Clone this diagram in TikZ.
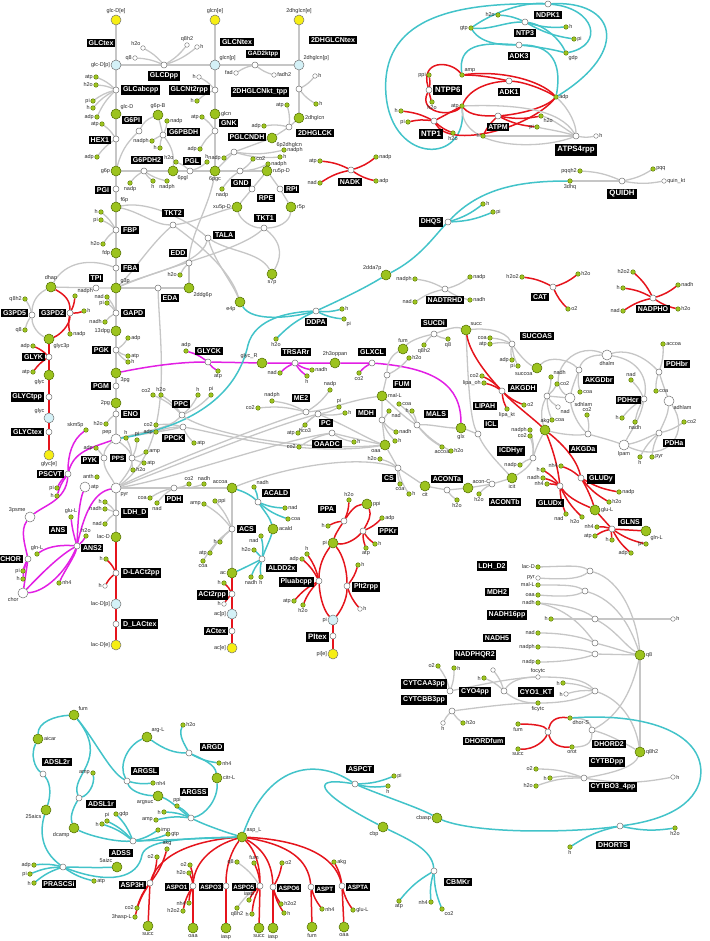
\documentclass[tikz,border=0pt]{standalone}
\usepackage{fontspec}
\usepackage{etoolbox}
\setmainfont{Liberation Sans}
\usetikzlibrary{backgrounds}
\definecolor{mgreen}{HTML}{9CC31E}
\definecolor{mgreenD}{HTML}{4F6B00}
\definecolor{myel}{HTML}{F6EE14}
\definecolor{mblu}{HTML}{D4F1F7}
\definecolor{egray}{HTML}{C6C6C6}
\definecolor{ered}{HTML}{E5141C}
\definecolor{ecyan}{HTML}{42C3C9}
\definecolor{emag}{HTML}{E21FE4}
\tikzset{
 rx/.style={circle,draw=black!55,fill=white,line width=.5pt,inner sep=0pt,minimum size=6pt},
 bm/.style={circle,draw=mgreenD,fill=mgreen,line width=.5pt,inner sep=0pt,minimum size=10pt},
 sm/.style={circle,draw=mgreenD,fill=mgreen,line width=.35pt,inner sep=0pt,minimum size=4.6pt},
 ws/.style={circle,draw=black!55,fill=white,line width=.4pt,inner sep=0pt,minimum size=4.6pt},
 wb/.style={circle,draw=black!55,fill=white,line width=.5pt,inner sep=0pt,minimum size=10pt},
 ye/.style={circle,draw=black!55,fill=myel,line width=.5pt,inner sep=0pt,minimum size=10pt},
 pe/.style={circle,draw=black!55,fill=mblu,line width=.5pt,inner sep=0pt,minimum size=10pt},
 lbox/.style={fill=black,text=white,font=\bfseries\fontsize{7}{8}\selectfont,inner sep=1.8pt},
 bbx/.style={font=\bfseries\fontsize{7.8}{9}\selectfont,inner sep=2pt},
 sbx/.style={font=\bfseries\fontsize{6.2}{7}\selectfont,inner sep=1.4pt},
 lab/.style={font=\fontsize{5.5}{6}\selectfont,inner sep=.6pt,text=black!85},
 lg/.style={draw=egray,line width=1.3pt},
 lr/.style={draw=ered,line width=1.5pt},
 lc/.style={draw=ecyan,line width=1.5pt},
 lm/.style={draw=emag,line width=1.5pt},
}
\newcommand\edgelist{}
\newcommand\Bm[4]{\node[bm,label={[lab]#4:{#3}}] (#1) at (#2) {};}
\newcommand\Sm[4]{\node[sm,label={[lab]#4:{#3}}] (#1) at (#2) {};}
\newcommand\Ws[4]{\node[ws,label={[lab]#4:{#3}}] (#1) at (#2) {};}
\newcommand\Wb[4]{\node[wb,label={[lab]#4:{#3}}] (#1) at (#2) {};}
\newcommand\Ye[4]{\node[ye,label={[lab]#4:{#3}}] (#1) at (#2) {};}
\newcommand\Pe[4]{\node[pe,label={[lab]#4:{#3}}] (#1) at (#2) {};}
\newcommand\Rx[5][]{\node[rx] (#2) at (#3) {};\node[lbox,#1] (#2b) at (#4) {#5};}
\newcommand\E[2][lg]{\gappto\edgelist{\draw[#1] #2;}}
\newcommand\Cf[6][lg]{\node[sm,label={[lab]#5:{#4}}] (#2) at (#3) {};\E[#1]{(#2) to[bend left=10] (#6)}}
\newcommand\Cw[6][lg]{\node[ws,label={[lab]#5:{#4}}] (#2) at (#3) {};\E[#1]{(#2) to[bend left=10] (#6)}}
\begin{document}
\begin{tikzpicture}[x=1pt,y=-1pt]
\useasboundingbox (0,0) rectangle (709,941);
% ================= transport top
\Ye{glcDe}{116,20}{glc-D[e]}{above}
\node[lbox] (GLCtexb) at (101,43) {GLCtex};
\Pe{glcDp}{116,65}{glc-D[p]}{left}
\Ye{glcne}{215,20}{glcn[e]}{above}
\node[lbox] (GLCNtexb) at (237,42) {GLCNtex};
\Pe{glcnp}{215,65}{glcn[p]}{above right}
\Ye{dhge}{299,20}{2dhglcn[e]}{above}
\node[lbox] (DHGLCNtexb) at (333,40) {2DHGLCNtex};
\Pe{dhgp}{299,65}{2dhglcn[p]}{above right}
\E{(glcDe) -- (glcDp)}
\E{(glcne) -- (glcnp)}
\E{(dhge) -- (dhgp)}
\Rx{GLCDpp}{164,65}{164,76}{GLCDpp}
\Cw{gdA}{143,48}{h2o}{above left}{GLCDpp}
\Cw{gdB}{135,58}{q8}{left}{GLCDpp}
\Cw{gdC}{187,45}{q8h2}{above}{GLCDpp}
\Cw{gdD}{197,47}{h}{right}{GLCDpp}
\E{(glcDp) -- (GLCDpp) -- (glcnp)}
\Rx[sbx]{GADkt}{255,65}{263,54}{GAD2ktpp}
\Cw{gaA}{236,73}{fad}{left}{GADkt}
\Cw{gaB}{274,75}{fadh2}{right}{GADkt}
\E{(glcnp) -- (GADkt) -- (dhgp)}
% ================= upper glycolysis
\Rx[anchor=west]{GLCabc}{116,90}{121,90}{GLCabcpp}
\Cf{gaa1}{96,77}{atp}{left}{GLCabc}
\Cf{gaa2}{96,85}{h2o}{left}{GLCabc}
\Cf{gaa3}{93,101}{pi}{left}{GLCabc}
\Cf{gaa4}{93,108}{h}{left}{GLCabc}
\Cf{gaa5}{97,117}{adp}{left}{GLCabc}
\Bm{glcD}{116,114}{glc-D}{above right}
\E{(glcDp) -- (GLCabc) -- (glcD)}
\Bm{gsixpB}{158,115}{g6p-B}{above}
\Rx{GSixPI}{139,131}{132,120}{G6PI}
\Rx[anchor=east]{HEXone}{116,139}{111,140}{HEX1}
\Cf{hx1}{102,124}{atp}{left}{HEXone}
\Cf{hx2}{97,157}{adp}{left}{HEXone}
\Bm{gsixp}{116,171}{g6p}{left}
\E{(glcD) -- (HEXone) -- (gsixp)}
\E{(gsixpB) to[bend right=20] (GSixPI)}
\E{(GSixPI) to[bend right=15] (gsixp)}
\Rx[anchor=west]{GSixPBDH}{163,135}{167,132}{G6PBDH}
\Cf{gb1}{167,121}{nadp}{right}{GSixPBDH}
\Cf{gb2}{152,141}{nadph}{left}{GSixPBDH}
\Cf{gb3}{160,148}{h}{left}{GSixPBDH}
\Rx[anchor=east]{GLCNtrpp}{215,90}{210,90}{GLCNt2rpp}
\Cw{gn1}{199,77}{h}{left}{GLCNtrpp}
\Cf{gn2}{197,101}{h}{left}{GLCNtrpp}
\Bm{glcn}{215,114}{glcn}{right}
\E{(glcnp) -- (GLCNtrpp) -- (glcn)}
\Rx[anchor=west]{GNK}{215,131}{219,123}{GNK}
\Cf{gnk1}{202,117}{atp}{left}{GNK}
\Cf{gnk2}{200,149}{adp}{left}{GNK}
\Bm{pgcSix}{215,171}{6pgc}{below}
\E{(glcn) -- (GNK) -- (pgcSix)}
\Rx{GSixPDH}{144,171}{147,160}{G6PDH2}
\Cf{gp1}{130,183}{nadp}{below}{GSixPDH}
\Cf{gp2}{153,181}{h}{below}{GSixPDH}
\Cf{gp3}{167,181}{nadph}{below}{GSixPDH}
\Bm{pglSix}{173,171}{6pgl}{below right}
\Rx{PGL}{190,171}{192,161}{PGL}
\Cf{pl1}{176,162}{h2o}{above left}{PGL}
\Cf{pl2}{207,162}{h}{above}{PGL}
\E{(gsixp) -- (GSixPDH) -- (pglSix) -- (PGL) -- (pgcSix)}
\E{(gsixpB) -- (GSixPBDH)}
\E{(GSixPBDH) to[bend left=20] (pglSix)}
\Rx[anchor=east]{PGI}{116,189}{111,190}{PGI}
\Bm{fsixp}{116,207}{f6p}{above right}
\E{(gsixp) -- (PGI) -- (fsixp)}
\Rx[anchor=west]{FBP}{116,230}{121,230}{FBP}
\Cf{fb1}{101,212}{h}{left}{FBP}
\Cf{fb2}{101,220}{pi}{left}{FBP}
\Cf{fb3}{103,244}{h2o}{left}{FBP}
\Bm{fdp}{116,253}{fdp}{left}
\E{(fsixp) -- (FBP) -- (fdp)}
\Rx[anchor=west]{FBA}{116,268}{121,268}{FBA}
\Bm{gthreep}{116,288}{g3p}{above right}
\E{(fdp) -- (FBA) -- (gthreep)}
\Bm{dhap}{51,287}{dhap}{above}
\Rx{TPI}{96,288}{96,278}{TPI}
\E{(dhap) -- (TPI) -- (gthreep)}
\E{(FBA) .. controls (90,258) and (65,262) .. (dhap)}
% ================= pentose phosphate
\Rx{EDD}{189,263}{178,253}{EDD}
\Cf{ed1}{180,275}{h2o}{left}{EDD}
\Bm{ddgsix}{189,288}{2ddg6p}{below right}
\Rx{EDA}{158,288}{170,298}{EDA}
\E{(pgcSix) .. controls (210,205) and (190,235) .. (EDD)}
\E{(EDD) -- (ddgsix)}
\E{(ddgsix) -- (EDA) -- (gthreep)}
\Rx{GND}{240,171}{241,183}{GND}
\Cf{gd1}{253,159}{co2}{right}{GND}
\Cf{gd2}{268,164}{nadph}{right}{GND}
\Cf{gd3}{222,189}{nadp}{below}{GND}
\Bm{rufp}{267,171}{ru5p-D}{right}
\E{(pgcSix) -- (GND) -- (rufp)}
\Rx{RPE}{252,189}{266,198}{RPE}
\Rx[anchor=west]{RPI}{280,189}{284,189}{RPI}
\Bm{xufp}{237,207}{xu5p-D}{left}
\Bm{rfivep}{291,207}{r5p}{right}
\E{(rufp) -- (RPE) -- (xufp)}
\E{(rufp) -- (RPI) -- (rfivep)}
\Rx{TKTone}{264,228}{265,218}{TKT1}
\Rx{TKTtwo}{173,225}{173,213}{TKT2}
\Rx[anchor=west]{TALA}{208,238}{213,235}{TALA}
\Bm{efourp}{240,302}{e4p}{below left}
\Bm{sseven}{272,274}{s7p}{below}
\E{(fsixp) .. controls (140,212) and (155,225) .. (TKTtwo)}
\E{(TKTtwo) .. controls (195,222) and (215,212) .. (xufp)}
\E{(TKTtwo) .. controls (150,245) and (135,270) .. (gthreep)}
\E{(TKTtwo) .. controls (200,245) and (230,270) .. (efourp)}
\E{(TALA) .. controls (190,222) and (150,200) .. (fsixp)}
\E{(TALA) .. controls (200,265) and (150,272) .. (gthreep)}
\E{(TALA) .. controls (230,252) and (260,252) .. (sseven)}
\E{(TALA) .. controls (215,262) and (232,282) .. (efourp)}
\E{(TKTone) .. controls (252,228) and (240,220) .. (xufp)}
\E{(TKTone) .. controls (278,228) and (290,222) .. (rfivep)}
\E{(TKTone) .. controls (285,245) and (280,260) .. (sseven)}
\E{(TKTone) .. controls (240,250) and (180,262) .. (gthreep)}
\Rx{PGLCNDH}{234,152}{247,137}{PGLCNDH}
\Cf{pgn1}{224,158}{nadp}{left}{PGLCNDH}
\Cf{pgn2}{284,150}{nadph}{right}{PGLCNDH}
\Cf{pgn3}{280,157}{h}{right}{PGLCNDH}
\Rx{DHGkt}{299,89}{260,92}{2DHGLCNkt\_tpp}
\Cw{dk1}{315,76}{h}{right}{DHGkt}
\Cf{dk2}{316,104}{h}{right}{DHGkt}
\Bm{dhglcn}{299,118}{2dhglcn}{right}
\E{(dhgp) -- (DHGkt) -- (dhglcn)}
\Rx{DHGLCK}{289,127}{315,133}{2DHGLCK}
\Cf{dc1}{287,105}{atp}{left}{DHGLCK}
\Cf{dc2}{264,126}{adp}{left}{DHGLCK}
\Bm{psixdhg}{272,138}{6p2dhglcn}{below right}
\E{(dhglcn) -- (DHGLCK) -- (psixdhg)}
\E{(psixdhg) -- (PGLCNDH) -- (pgcSix)}
% NADK
\Rx{NADK}{351,170}{350,182}{NADK}
\Cf[lr]{nk1}{320,161}{atp}{left}{NADK}
\Cf[lr]{nk2}{320,183}{nad}{left}{NADK}
\Cf[lr]{nk3}{376,157}{nadp}{right}{NADK}
\Cf[lr]{nk4}{376,181}{adp}{right}{NADK}
% ================= glycerol
\Rx[anchor=east]{GTPDfive}{32,315}{28,313}{G3PD5}
\Cf{g5a}{25,299}{q8h2}{left}{GTPDfive}
\Cf{g5b}{25,330}{q8}{left}{GTPDfive}
\Bm{glycthreep}{49,339}{glyc3p}{below right}
\E{(dhap) .. controls (35,295) and (32,305) .. (GTPDfive)}
\E{(GTPDfive) .. controls (32,328) and (40,335) .. (glycthreep)}
\Rx[anchor=east]{GTPDtwo}{70,313}{66,313}{G3PD2}
\Cf[lr]{g2a}{75,296}{nadph}{above right}{GTPDtwo}
\Cf[lr]{g2b}{84,311}{h}{right}{GTPDtwo}
\Cf[lr]{g2c}{70,334}{nadp}{right}{GTPDtwo}
\E[lr]{(dhap) .. controls (65,295) and (70,300) .. (GTPDtwo)}
\E[lr]{(GTPDtwo) .. controls (70,325) and (60,335) .. (glycthreep)}
\Rx[anchor=east]{GLYK}{49,357}{45,357}{GLYK}
\Cf[lr]{gk1}{33,346}{adp}{left}{GLYK}
\Cf[lr]{gk2}{33,372}{atp}{left}{GLYK}
\Bm{glyc}{49,375}{glyc}{below left}
\Rx[anchor=east]{GLYCtpp}{49,397}{44,397}{GLYCtpp}
\Pe{glycp}{49,418}{glyc}{above left}
\Rx[anchor=east]{GLYCtex}{49,432}{44,432}{GLYCtex}
\Ye{glyce}{49,455}{glyc[e]}{below}
\E[lr]{(glycthreep) -- (GLYK) -- (glyc) -- (GLYCtpp) -- (glycp) -- (GLYCtex) -- (glyce)}
% ================= lower glycolysis
\Rx[anchor=west]{GAPD}{116,313}{121,313}{GAPD}
\Cf{ga1}{107,297}{nad}{left}{GAPD}
\Cf{ga2}{107,303}{pi}{left}{GAPD}
\Cf{ga3}{105,322}{nadh}{left}{GAPD}
\Bm{dpg}{116,331}{13dpg}{left}
\E{(gthreep) -- (GAPD) -- (dpg)}
\Rx[anchor=east]{PGK}{116,350}{111,350}{PGK}
\Cf{pk1}{128,338}{adp}{right}{PGK}
\Cf{pk2}{128,356}{atp}{right}{PGK}
\Cf{pk3}{128,362}{h}{right}{PGK}
\Bm{pgthree}{116,373}{3pg}{below right}
\E{(dpg) -- (PGK) -- (pgthree)}
\Rx[anchor=east]{PGM}{116,386}{111,386}{PGM}
\Bm{pgtwo}{116,403}{2pg}{left}
\E{(pgthree) -- (PGM) -- (pgtwo)}
\Rx[anchor=west]{ENO}{116,414}{121,414}{ENO}
\Cf{en1}{106,424}{h2o}{left}{ENO}
\Wb{pep}{116,439}{pep}{above left}
\E{(pgtwo) -- (ENO) -- (pep)}
\Rx{PPC}{182,415}{181,404}{PPC}
\Cf{pc1}{153,395}{co2}{above left}{PPC}
\Cf{pc2}{161,395}{h2o}{above}{PPC}
\Cf{pc3}{198,395}{h}{above}{PPC}
\Cf{pc4}{211,395}{pi}{above}{PPC}
\Rx[anchor=west]{PPCK}{183,427}{162,438}{PPCK}
\Cf{pcka}{156,425}{co2}{left}{PPCK}
\Cf{pckb}{156,432}{adp}{left}{PPCK}
\Cf{pckc}{194,443}{atp}{right}{PPCK}
\Rx[anchor=east]{PYK}{104,458}{99,460}{PYK}
\Rx[sbx]{PPS}{132,458}{118,458}{PPS}
\Cf{pya}{96,448}{adp}{left}{PYK}
\Cf{ppsa}{126,438}{h}{above}{PPS}
\Cf{ppsb}{137,440}{pi}{above}{PPS}
\Cf{ppsc}{146,452}{amp}{right}{PPS}
\Cf{ppsd}{144,463}{atp}{right}{PPS}
\Cf{ppse}{133,470}{h2o}{right}{PPS}
\Wb{pyr}{116,488}{pyr}{below right}
\E{(pep) .. controls (108,445) and (104,450) .. (PYK)}
\E{(PYK) .. controls (104,470) and (112,478) .. (pyr)}
\E{(pyr) .. controls (124,478) and (132,468) .. (PPS)}
\E{(PPS) .. controls (130,450) and (122,444) .. (pep)}
\E{(pep) .. controls (150,430) and (170,428) .. (PPC)}
\E{(PPCK) .. controls (160,432) and (130,436) .. (pep)}
\E{(EDA) .. controls (160,350) and (175,445) .. (pyr)}
\Rx{PDH}{174,488}{174,499}{PDH}
\Cf{pda}{150,498}{coa}{left}{PDH}
\Cf{pdb}{157,503}{nad}{below}{PDH}
\Cf{pdc}{189,484}{co2}{above}{PDH}
\Cf{pdd}{204,484}{nadh}{above}{PDH}
\Bm{accoa}{232,488}{accoa}{above left}
\E{(pyr) -- (PDH) -- (accoa)}
\Rx[anchor=west]{LDHD}{116,513}{121,513}{LDH\_D}
\Cf{lda}{105,502}{h}{left}{LDHD}
\Cf{ldb}{105,509}{nadh}{left}{LDHD}
\Cf{ldc}{105,524}{nad}{left}{LDHD}
\Bm{lacD}{116,537}{lac-D}{left}
\E{(pyr) -- (LDHD) -- (lacD)}
\Rx[anchor=west]{DLACtpp}{116,573}{121,573}{D-LACt2pp}
\Cf[lr]{dla}{106,559}{h}{left}{DLACtpp}
\Cw[lr]{dlb}{105,586}{h}{left}{DLACtpp}
\Pe{lacDp}{116,604}{lac-D[p]}{left}
\Rx[anchor=west]{DLACtex}{116,624}{121,624}{D\_LACtex}
\Ye{lacDe}{116,645}{lac-D[e]}{left}
\E[lr]{(lacD) -- (DLACtpp) -- (lacDp) -- (DLACtex) -- (lacDe)}
% ================= chorismate (magenta)
\Sm{skmfp}{86,430}{skm5p}{above left}
\Rx[anchor=east]{PSCVT}{68,474}{64,474}{PSCVT}
\Cf[lm]{psa}{57,488}{pi}{left}{PSCVT}
\Cf[lm]{psb}{57,496}{h}{left}{PSCVT}
\E[lm]{(skmfp) .. controls (72,440) and (68,455) .. (PSCVT)}
\E[lm]{(pep) .. controls (90,448) and (74,452) .. (PSCVT)}
\Wb{psme}{30,517}{3psme}{above left}
\E[lm]{(PSCVT) .. controls (66,500) and (45,505) .. (psme)}
\Sm{anth}{97,477}{anth}{left}
\Wb{atpw}{85,487}{atp}{right}
\Sm{gluLa}{71,517}{glu-L}{above}
\node[lbox] (ANSb) at (58,530) {ANS};
\Rx[anchor=west]{ANStwo}{77,546}{81,548}{ANS2}
\Cf[lm]{ana}{86,536}{h2o}{above}{ANStwo}
\Rx[anchor=east]{CHOR}{28,559}{23,559}{CHOR}
\Sm{glnLa}{37,554}{gln-L}{above}
\Cf[lm]{cha}{23,571}{pi}{left}{CHOR}
\Cf[lm]{chb}{23,579}{h}{left}{CHOR}
\Wb{chor}{23,593}{chor}{below left}
\Sm{nhfa}{59,583}{nh4}{right}
\E[lm]{(psme) .. controls (20,530) and (25,545) .. (CHOR)}
\E[lm]{(CHOR) -- (chor)}
\E[lm]{(chor) .. controls (40,575) and (60,555) .. (ANStwo)}
\E[lm]{(chor) .. controls (45,592) and (66,572) .. (ANStwo)}
\E[lm]{(ANStwo) .. controls (85,510) and (95,492) .. (pyr)}
\E[lm]{(ANStwo) .. controls (78,515) and (80,500) .. (atpw)}
\E[lm]{(glnLa) .. controls (50,545) and (65,545) .. (ANStwo)}
\E[lm]{(ANStwo) .. controls (73,532) and (72,527) .. (gluLa)}
\E[lm]{(nhfa) .. controls (65,570) and (75,556) .. (ANStwo)}
% ================= glycerate / glyoxylate (magenta)
\Rx{GLYCK}{208,362}{209,351}{GLYCK}
\Cf[lm]{gya}{186,351}{adp}{above}{GLYCK}
\Cf[lm]{gyb}{218,371}{atp}{below}{GLYCK}
\Bm{glycR}{262,363}{glyc\_R}{above left}
\Rx{TRSARr}{295,363}{296,352}{TRSARr}
\Cf[lm]{tra}{280,373}{nad}{left}{TRSARr}
\Cf[lm]{trb}{307,376}{h}{below}{TRSARr}
\Cf[lm]{trc}{312,370}{nadh}{right}{TRSARr}
\Bm{hoppan}{335,363}{2h3oppan}{above}
\Rx{GLXCL}{372,363}{372,352}{GLXCL}
\Cf[lm]{glxa}{359,373}{co2}{below}{GLXCL}
\Bm{glx}{461,428}{glx}{below}
\E[lm]{(pgthree) .. controls (150,366) and (180,362) .. (GLYCK)}
\E[lm]{(GLYCK) -- (glycR) -- (TRSARr) -- (hoppan) -- (GLXCL)}
\E[lm]{(GLXCL) .. controls (435,368) and (461,385) .. (glx)}
% ================= shikimate (cyan)
\Rx{DDPA}{316,311}{316,322}{DDPA}
\Cf[lc]{dda}{342,309}{h}{right}{DDPA}
\Cf[lc]{ddb}{344,319}{pi}{below right}{DDPA}
\Cf[lc]{ddc}{276,339}{h2o}{below}{DDPA}
\Bm{ddasevp}{386,275}{2dda7p}{above left}
\E[lc]{(efourp) .. controls (252,322) and (290,318) .. (DDPA)}
\E[lc]{(DDPA) .. controls (340,300) and (365,288) .. (ddasevp)}
\E[lc]{(pep) .. controls (200,425) and (238,390) .. (248,345) .. controls (255,318) and (290,312) .. (DDPA)}
\Rx[anchor=east]{DHQS}{448,222}{443,222}{DHQS}
\Cf[lc]{dqa}{483,204}{h}{right}{DHQS}
\Cf[lc]{dqb}{493,212}{pi}{right}{DHQS}
\Sm{dhqthree}{570,181}{3dhq}{below}
\E[lc]{(ddasevp) .. controls (420,258) and (435,235) .. (DHQS)}
\E[lc]{(DHQS) .. controls (480,188) and (520,181) .. (dhqthree)}
\Rx[bbx]{QUIDH}{622,181}{622,194}{QUIDH}
\Cf{qua}{580,171}{pqqh2}{left}{QUIDH}
\Cf{qub}{653,169}{pqq}{right}{QUIDH}
\Cw{quc}{664,181}{quin\_kt}{right}{QUIDH}
\E{(dhqthree) -- (QUIDH)}
% ================= energy (top right)
\Sm{atpT}{462,106}{atp}{left}
\Sm{ampT}{462,75}{amp}{above right}
\Sm{adpT}{556,97}{adp}{right}
\Sm{gtpT}{471,28}{gtp}{left}
\Sm{gdpT}{566,53}{gdp}{below right}
\Rx{NDPK}{548,4}{548,15}{NDPK1}
\Rx{NTPthree}{525,22}{525,33}{NTP3}
\Cf[lc]{ntA}{498,15}{h2o}{left}{NTPthree}
\Cf[lc]{ntB}{566,27}{h}{right}{NTPthree}
\Cf[lc]{ntC}{574,39}{pi}{right}{NTPthree}
\Rx{ADKthree}{519,45}{519,56}{ADK3}
\Rx[bbx,anchor=west]{NTPPsix}{429,90}{433,90}{NTPP6}
\Cf[lr]{n6a}{429,75}{ppi}{left}{NTPPsix}
\Cf[lr]{n6b}{432,102}{h2o}{below}{NTPPsix}
\Rx[bbx]{NTPone}{434,121}{431,134}{NTP1}
\Cf[lr]{n1a}{401,111}{h}{left}{NTPone}
\Cf[lr]{n1b}{408,122}{pi}{left}{NTPone}
\Cf[lr]{n1c}{453,133}{h2o}{below}{NTPone}
\Rx{ADKone}{509,81}{509,92}{ADK1}
\Rx{ATPM}{498,116}{498,127}{ATPM}
\Cf[lr]{ama}{541,116}{h2o}{below right}{ATPM}
\Cf[lr]{amb}{537,127}{pi}{left}{ATPM}
\Cf[lr]{amc}{483,136}{h}{left}{ATPM}
\Rx[bbx]{ATPSfour}{576,136}{576,150}{ATPS4rpp}
\Cw{asa}{596,136}{h}{right}{ATPSfour}
\E[lc]{(atpT) .. controls (468,165) and (392,165) .. (386,95) .. controls (380,20) and (450,2) .. (NDPK)}
\E[lc]{(NDPK) .. controls (615,0) and (632,50) .. (adpT)}
\E[lc]{(NDPK) .. controls (595,8) and (605,45) .. (gdpT)}
\E[lc]{(gtpT) .. controls (500,8) and (530,2) .. (NDPK)}
\E[lc]{(gtpT) .. controls (490,30) and (505,22) .. (NTPthree)}
\E[lc]{(NTPthree) .. controls (545,25) and (560,40) .. (gdpT)}
\E[lc]{(ampT) .. controls (458,45) and (480,42) .. (ADKthree)}
\E[lc]{(gtpT) .. controls (482,45) and (505,45) .. (ADKthree)}
\E[lc]{(ADKthree) .. controls (540,47) and (555,50) .. (gdpT)}
\E[lc]{(ADKthree) .. controls (560,45) and (560,75) .. (adpT)}
\E[lr]{(atpT) .. controls (450,118) and (418,112) .. (NTPPsix)}
\E[lr]{(NTPPsix) .. controls (420,60) and (450,60) .. (ampT)}
\E[lr]{(atpT) -- (NTPone)}
\E[lr]{(NTPone) .. controls (450,150) and (530,128) .. (adpT)}
\E[lr]{(ampT) .. controls (480,75) and (495,78) .. (ADKone)}
\E[lr]{(atpT) .. controls (470,88) and (490,82) .. (ADKone)}
\E[lr]{(ADKone) .. controls (525,82) and (545,90) .. (adpT)}
\E[lr]{(atpT) .. controls (470,116) and (485,116) .. (ATPM)}
\E[lr]{(ATPM) .. controls (520,114) and (545,108) .. (adpT)}
\E[lr]{(ampT) .. controls (500,70) and (540,80) .. (adpT)}
\E{(adpT) .. controls (570,110) and (576,125) .. (ATPSfour)}
\E{(atpT) .. controls (462,150) and (540,150) .. (ATPSfour)}
\E{(atpT) .. controls (520,104) and (560,110) .. (ATPSfour)}
\E{(ATPSfour) .. controls (560,125) and (550,118) .. (ama)}
\E{(ATPSfour) .. controls (560,131) and (545,129) .. (amb)}
\E{(ATPSfour) -- (amc)}
% ================= redox
\Rx{NADTRHD}{445,289}{445,300}{NADTRHD}
\Cf{nda}{415,279}{nadph}{left}{NADTRHD}
\Cf{ndb}{415,302}{nad}{left}{NADTRHD}
\Cf{ndc}{470,277}{nadp}{right}{NADTRHD}
\Cf{ndd}{470,300}{nadh}{right}{NADTRHD}
\Rx{CAT}{553,287}{540,297}{CAT}
\Cf[lr]{caa}{522,277}{h2o2}{left}{CAT}
\Cf[lr]{cab}{578,274}{h2o}{right}{CAT}
\Cf[lr]{cac}{568,309}{o2}{right}{CAT}
\Rx{NADPHO}{653,298}{653,309}{NADPHO}
\Cf[lr]{npa}{633,272}{h2o2}{left}{NADPHO}
\Cf[lr]{npb}{623,288}{h}{left}{NADPHO}
\Cf[lr]{npc}{678,285}{nadh}{right}{NADPHO}
\Cf[lr]{npd}{678,309}{h2o}{right}{NADPHO}
\Cf[lr]{npe}{623,311}{nad}{left}{NADPHO}
% ================= TCA
\Bm{succ}{466,330}{succ}{above right}
\Rx{SUCDi}{434,334}{434,323}{SUCDi}
\Bm{fum}{403,349}{fum}{above}
\Cf{sda}{424,345}{q8h2}{below}{SUCDi}
\Cf{sdb}{448,339}{q8}{below}{SUCDi}
\E{(succ) .. controls (455,326) and (445,330) .. (SUCDi)}
\E{(SUCDi) .. controls (420,337) and (410,341) .. (fum)}
\Rx{FUM}{387,375}{402,384}{FUM}
\Cf{fua}{409,358}{h2o}{right}{FUM}
\Bm{malL}{382,396}{mal-L}{right}
\E{(fum) .. controls (390,356) and (387,365) .. (FUM)}
\E{(FUM) -- (malL)}
\Rx{MDH}{382,420}{366,413}{MDH}
\Cf{mda}{389,411}{nad}{below right}{MDH}
\Cf{mdb}{396,432}{nadh}{right}{MDH}
\Cf{mdc}{395,441}{h}{right}{MDH}
\Bm{oaa}{385,445}{oaa}{below left}
\E{(malL) -- (MDH) -- (oaa)}
\Rx{MALS}{417,425}{436,414}{MALS}
\Cf{maa}{399,404}{coa}{right}{MALS}
\Cf{mab}{412,411}{h}{left}{MALS}
\Cf{mac}{442,447}{accoa}{below}{MALS}
\Cf{mad}{451,451}{h2o}{right}{MALS}
\E{(glx) .. controls (445,428) and (430,424) .. (MALS)}
\E{(MALS) .. controls (405,418) and (392,405) .. (malL)}
\Rx{CS}{398,468}{389,478}{CS}
\Cf{csa}{400,484}{coa}{below}{CS}
\Cf{csb}{409,494}{h}{right}{CS}
\Cf{csd}{380,459}{h2o}{left}{CS}
\Bm{cit}{425,486}{cit}{below}
\E{(oaa) -- (CS) -- (cit)}
\Rx{ACONTa}{447,490}{447,479}{ACONTa}
\Cf{aca}{457,500}{h2o}{below}{ACONTa}
\Bm{aconC}{468,488}{acon-C}{above right}
\Rx{ACONTb}{492,484}{505,502}{ACONTb}
\Cf{acb}{479,494}{h2o}{below}{ACONTb}
\Bm{icit}{512,478}{icit}{below}
\E{(cit) -- (ACONTa) -- (aconC) -- (ACONTb) -- (icit)}
\Rx{ICDHyr}{533,458}{511,451}{ICDHyr}
\Cf{ica}{530,430}{nadph}{left}{ICDHyr}
\Cf{icb}{530,436}{co2}{left}{ICDHyr}
\Cf{icc}{520,465}{nadp}{left}{ICDHyr}
\Bm{akg}{545,430}{akg}{above}
\E{(icit) .. controls (525,470) and (530,465) .. (ICDHyr)}
\E{(ICDHyr) .. controls (537,445) and (540,440) .. (akg)}
\Rx{ICL}{478,434}{491,424}{ICL}
\E{(icit) .. controls (500,465) and (485,450) .. (ICL)}
\E{(ICL) .. controls (470,420) and (468,380) .. (succ)}
\E{(ICL) .. controls (472,432) and (468,430) .. (glx)}
\node[lbox] (LIPAHb) at (485,406) {LIPAH};
\Rx[anchor=west]{AKGDH}{502,391}{508,388}{AKGDH}
\Cf[lr]{aka}{482,376}{co2}{left}{AKGDH}
\Cf[lr]{akb}{484,383}{lipa\_oh}{left}{AKGDH}
\Cf[lr]{akc}{524,405}{o2}{right}{AKGDH}
\Cf[lr]{akd}{507,409}{lipa\_kt}{below}{AKGDH}
\E[lr]{(succ) .. controls (470,355) and (490,378) .. (AKGDH)}
\E[lr]{(AKGDH) .. controls (515,405) and (535,420) .. (akg)}
\Rx{SUCOAS}{512,344}{537,336}{SUCOAS}
\Cf{soa}{490,338}{coa}{left}{SUCOAS}
\Cf{sob}{490,344}{atp}{left}{SUCOAS}
\Cf{soc}{512,360}{adp}{left}{SUCOAS}
\Cf{sod}{518,366}{pi}{left}{SUCOAS}
\Bm{succoa}{537,368}{succoa}{below left}
\E{(succ) .. controls (485,328) and (505,330) .. (SUCOAS)}
\E{(SUCOAS) .. controls (520,356) and (528,364) .. (succoa)}
% AKGD / PDH complexes
\Wb{dhalm}{607,355}{dhalm}{below}
\Wb{sdhlam}{570,398}{sdhlam}{below right}
\Wb{lpam}{624,445}{lpam}{below}
\Wb{adhlam}{669,401}{adhlam}{below right}
\Rx[anchor=west]{AKGDbr}{579,370}{583,380}{AKGDbr}
\Cf{kba}{580,392}{coa}{right}{AKGDbr}
\E{(dhalm) .. controls (590,355) and (582,360) .. (AKGDbr)}
\E{(AKGDbr) .. controls (575,380) and (572,388) .. (sdhlam)}
\E{(succoa) .. controls (550,355) and (570,360) .. (AKGDbr)}
\Rx{AKGDa}{588,434}{583,449}{AKGDa}
\Cf{kaa}{587,415}{co2}{above}{AKGDa}
\E{(lpam) .. controls (610,440) and (595,436) .. (AKGDa)}
\E{(AKGDa) .. controls (578,425) and (572,412) .. (sdhlam)}
\E{(akg) .. controls (560,434) and (575,436) .. (AKGDa)}
\node[rx] (AKGDx) at (547,396) {};
\Cf{kxa}{551,377}{nadh}{above right}{AKGDx}
\Cf{kxb}{557,384}{co2}{right}{AKGDx}
\Cw{kxc}{558,407}{nad}{below right}{AKGDx}
\Cf{kxd}{552,420}{coa}{right}{AKGDx}
\E{(AKGDx) -- (sdhlam)}
\E{(akg) .. controls (540,415) and (542,405) .. (AKGDx)}
\Rx{PDHcr}{644,399}{628,400}{PDHcr}
\Cf{pca}{631,380}{nad}{above}{PDHcr}
\Cf{pcb}{622,418}{h}{left}{PDHcr}
\Cf{pcc}{635,422}{nadh}{below}{PDHcr}
\E{(dhalm) .. controls (640,360) and (648,380) .. (PDHcr)}
\E{(PDHcr) .. controls (640,420) and (630,432) .. (lpam)}
\Rx{PDHbr}{659,372}{677,364}{PDHbr}
\Cf{pba}{663,344}{accoa}{right}{PDHbr}
\Cf{pcd}{656,391}{coa}{right}{PDHbr}
\E{(adhlam) .. controls (665,390) and (662,382) .. (PDHbr)}
\E{(PDHbr) .. controls (640,352) and (622,350) .. (dhalm)}
\Rx{PDHa}{659,433}{674,443}{PDHa}
\Cf{paa}{684,422}{co2}{right}{PDHa}
\Cf{pab}{652,457}{pyr}{right}{PDHa}
\Cf{pac}{640,457}{h}{below}{PDHa}
\E{(lpam) .. controls (640,442) and (650,436) .. (PDHa)}
\E{(PDHa) .. controls (665,420) and (668,414) .. (adhlam)}
\E{(dhalm) .. controls (570,340) and (545,380) .. (sdhlam)}
\E{(adhlam) .. controls (690,430) and (670,465) .. (lpam)}
% glutamate (red)
\Rx{GLUDx}{560,486}{550,503}{GLUDx}
\Cf[lr]{gxa}{543,470}{h}{left}{GLUDx}
\Cf[lr]{gxb}{543,478}{nadh}{left}{GLUDx}
\Cf[lr]{gxc}{547,484}{nh4}{left}{GLUDx}
\Cf[lr]{gxd}{566,514}{nad}{below left}{GLUDx}
\Cf[lr]{gxe}{582,517}{h2o}{below left}{GLUDx}
\Rx{GLUDy}{581,478}{601,479}{GLUDy}
\Cf[lr]{gyaa}{561,466}{nh4}{left}{GLUDy}
\Cf[lr]{gybb}{619,492}{nadp}{right}{GLUDy}
\Cf[lr]{gycc}{609,502}{h2o}{right}{GLUDy}
\Bm{gluL}{595,510}{glu-L}{right}
\E[lr]{(akg) .. controls (555,455) and (558,470) .. (GLUDx)}
\E[lr]{(GLUDx) .. controls (570,500) and (585,505) .. (gluL)}
\E[lr]{(akg) .. controls (570,450) and (578,465) .. (GLUDy)}
\E[lr]{(GLUDy) .. controls (588,490) and (592,500) .. (gluL)}
\Rx{GLNS}{612,529}{630,522}{GLNS}
\Cf[lr]{gna}{597,527}{nh4}{left}{GLNS}
\Cf[lr]{gnb}{595,536}{atp}{left}{GLNS}
\Cf[lr]{gnc}{612,540}{h}{left}{GLNS}
\Cf[lr]{gnd}{646,544}{pi}{left}{GLNS}
\Cf[lr]{gne}{631,553}{adp}{left}{GLNS}
\Bm{glnL}{646,531}{gln-L}{below right}
\E[lr]{(gluL) -- (GLNS) -- (glnL)}
% ================= quinone network
\Bm{qeight}{640,655}{q8}{right}
\Bm{qeighthtwo}{640,752}{q8h2}{right}
\E{(qeight) -- (qeighthtwo)}
\Rx{LDHDtwo}{590,571}{492,566}{LDH\_D2}
\Sm{lacDb}{538,567}{lac-D}{left}
\Ws{pyrb}{538,578}{pyr}{left}
\E{(lacDb) .. controls (570,566) and (580,565) .. (LDHDtwo)}
\E{(pyrb) .. controls (570,580) and (580,578) .. (LDHDtwo)}
\E{(LDHDtwo) .. controls (622,580) and (637,620) .. (qeight)}
\Rx{MDHtwo}{585,591}{497,592}{MDH2}
\Sm{malLb}{538,585}{mal-L}{left}
\Sm{oaab}{538,595}{oaa}{left}
\E{(malLb) .. controls (565,585) and (575,585) .. (MDHtwo)}
\E{(oaab) .. controls (565,597) and (575,596) .. (MDHtwo)}
\E{(MDHtwo) .. controls (615,600) and (630,625) .. (qeight)}
\Rx{NADHsixteen}{595,619}{507,615}{NADH16pp}
\Sm{nadhb}{538,603}{nadh}{left}
\Sm{hb}{551,619}{h}{left}
\Ws{hbw}{673,619}{h}{right}
\E{(nadhb) .. controls (565,605) and (585,610) .. (NADHsixteen)}
\E{(hb) -- (NADHsixteen) -- (hbw)}
\E{(NADHsixteen) .. controls (615,630) and (625,645) .. (qeight)}
\Rx{NADHfive}{595,643}{497,638}{NADH5}
\Sm{nadb}{538,633}{nad}{left}
\E{(nadhb) .. controls (570,610) and (585,630) .. (NADHfive)}
\E{(nadb) .. controls (565,633) and (585,638) .. (NADHfive)}
\E{(NADHfive) .. controls (615,648) and (625,652) .. (qeight)}
\Rx{NADPHQR}{595,654}{475,655}{NADPHQR2}
\Sm{nadphb}{538,647}{nadph}{left}
\Sm{nadpb}{538,662}{nadp}{left}
\E{(nadphb) .. controls (565,647) and (585,650) .. (NADPHQR)}
\E{(nadpb) .. controls (565,662) and (585,658) .. (NADPHQR)}
\E{(NADPHQR) -- (qeight)}
\Rx{CYOoneKT}{595,691}{536,692}{CYO1\_KT}
\Ws{focytc}{538,677}{focytc}{above}
\Sm{ficytc}{538,703}{ficytc}{below}
\Cf{cya}{563,683}{h}{left}{CYOoneKT}
\Cw{cyb}{566,694}{h}{left}{CYOoneKT}
\E{(focytc) .. controls (570,677) and (585,680) .. (CYOoneKT)}
\E{(CYOoneKT) .. controls (620,700) and (635,720) .. (qeighthtwo)}
\E{(CYOoneKT) .. controls (580,700) and (560,703) .. (ficytc)}
\Rx{CYOfour}{504,691}{475,692}{CYO4pp}
\Cw{cfa}{493,670}{}{left}{CYOfour}
\Cf{cfb}{484,678}{h}{left}{CYOfour}
\E{(focytc) .. controls (520,677) and (510,682) .. (CYOfour)}
\E{(CYOfour) .. controls (515,700) and (525,703) .. (ficytc)}
\Rx{CYTCAA}{450,691}{424,684}{CYTCAA3pp}
\Cf{cta}{438,666}{o2}{left}{CYTCAA}
\Cf{ctb}{454,668}{h}{right}{CYTCAA}
\E{(CYTCAA) .. controls (480,685) and (510,678) .. (focytc)}
\Rx{CYTCBB}{452,711}{424,700}{CYTCBB3pp}
\Cw{cbw}{443,723}{h}{below}{CYTCBB}
\Cf{cbg}{463,723}{h2o}{right}{CYTCBB}
\E{(CYTCBB) .. controls (490,706) and (515,703) .. (ficytc)}
\Rx{DHORDfum}{548,732}{484,741}{DHORDfum}
\Sm{fumc}{518,724}{fum}{below}
\Sm{succc}{518,749}{succ}{below}
\Sm{dhorS}{570,718}{dhor-S}{below right}
\Sm{orot}{572,747}{orot}{below}
\E[lr]{(fumc) .. controls (535,724) and (545,726) .. (DHORDfum)}
\E[lr]{(succc) .. controls (535,750) and (545,740) .. (DHORDfum)}
\E[lr]{(dhorS) .. controls (555,716) and (550,722) .. (DHORDfum)}
\E[lr]{(orot) .. controls (555,748) and (550,740) .. (DHORDfum)}
\Rx{DHORDtwo}{592,730}{609,744}{DHORD2}
\E{(dhorS) .. controls (585,718) and (590,722) .. (DHORDtwo)}
\E{(orot) .. controls (590,747) and (592,740) .. (DHORDtwo)}
\E{(DHORDtwo) .. controls (620,715) and (632,690) .. (qeight)}
\E{(DHORDtwo) .. controls (610,735) and (628,745) .. (qeighthtwo)}
\node[lbox] (CYTBDppb) at (607,762) {CYTBDpp};
\Rx{CYTBO}{584,778}{613,787}{CYTBO3\_4pp}
\Cf{cba}{536,769}{o2}{left}{CYTBO}
\Cf{cbb}{550,778}{h}{left}{CYTBO}
\Cf{cbc}{536,786}{h2o}{left}{CYTBO}
\Cw{cbd}{673,777}{h}{right}{CYTBO}
\E{(CYTBO) .. controls (620,772) and (635,765) .. (qeighthtwo)}
% ================= aspartate (bottom)
\Bm{aspL}{242,837}{asp\_L}{above right}
\Rx{ASPCT}{355,784}{360,769}{ASPCT}
\Cf[lc]{acaa}{394,776}{pi}{right}{ASPCT}
\Cf[lc]{acbb}{388,786}{h}{below}{ASPCT}
\Bm{cbasp}{437,818}{cbasp}{left}
\Bm{cbp}{383,827}{cbp}{below left}
\E[lc]{(aspL) .. controls (270,760) and (320,760) .. (ASPCT)}
\E[lc]{(ASPCT) .. controls (380,795) and (420,808) .. (cbasp)}
\E[lc]{(ASPCT) .. controls (300,775) and (330,800) .. (cbp)}
\Rx{DHORTS}{620,826}{613,845}{DHORTS}
\Cf[lc]{dta}{675,828}{h2o}{below}{DHORTS}
\Cf[lc]{dtb}{570,847}{h}{below}{DHORTS}
\E[lc]{(dhorS) .. controls (660,712) and (708,740) .. (700,780) .. controls (692,812) and (650,822) .. (DHORTS)}
\E[lc]{(cbasp) .. controls (480,835) and (580,832) .. (DHORTS)}
\Rx{CBMKr}{434,871}{458,882}{CBMKr}
\Cf[lc]{cma}{399,901}{atp}{below}{CBMKr}
\Cf[lc]{cmb}{431,902}{nh4}{left}{CBMKr}
\Cf[lc]{cmc}{442,909}{co2}{below right}{CBMKr}
\E[lc]{(cbp) .. controls (410,840) and (432,850) .. (CBMKr)}
\Rx[anchor=east]{ASPthreeH}{150,883}{146,885}{ASP3H}
\Cf[lr]{a3a}{167,849}{akg}{above}{ASPthreeH}
\Cf[lr]{a3b}{157,857}{o2}{left}{ASPthreeH}
\Cf[lr]{a3c}{137,908}{co2}{left}{ASPthreeH}
\Cf[lr]{a3d}{135,917}{3hasp-L}{left}{ASPthreeH}
\Bm{succd}{148,926}{succ}{below}
\E[lr]{(aspL) .. controls (200,840) and (160,852) .. (ASPthreeH)}
\E[lr]{(ASPthreeH) -- (succd)}
\Rx[sbx,anchor=east]{ASPOone}{193,886}{189,887}{ASPO1}
\Cf[lr]{o1a}{190,865}{o2}{left}{ASPOone}
\Cf[lr]{o1b}{189,873}{h2o}{left}{ASPOone}
\Cf[lr]{o1c}{189,903}{nh4}{left}{ASPOone}
\Cf[lr]{o1d}{183,911}{h2o2}{left}{ASPOone}
\Bm{oaad}{193,928}{oaa}{below}
\E[lr]{(aspL) .. controls (215,845) and (195,860) .. (ASPOone)}
\E[lr]{(ASPOone) -- (oaad)}
\Rx[sbx,anchor=east]{ASPOthree}{226,886}{223,887}{ASPO3}
\Bm{iaspd}{226,928}{iasp}{below}
\E[lr]{(aspL) .. controls (232,850) and (226,865) .. (ASPOthree)}
\E[lr]{(ASPOthree) -- (iaspd)}
\Rx[sbx,anchor=east]{ASPOfive}{260,886}{256,887}{ASPO5}
\Cf{o5a}{237,862}{q8}{left}{ASPOfive}
\Cf[lr]{o5b}{254,863}{fum}{above}{ASPOfive}
\Cf{o5c}{237,908}{q8h2}{below}{ASPOfive}
\Cf[lr]{o5d}{249,900}{iasp}{above}{ASPOfive}
\Cf[lr]{o5e}{252,914}{h}{left}{ASPOfive}
\Bm{succe}{259,928}{succ}{below}
\E[lr]{(aspL) .. controls (255,850) and (260,865) .. (ASPOfive)}
\E[lr]{(ASPOfive) -- (succe)}
\Rx[sbx,anchor=west]{ASPOsix}{273,887}{277,888}{ASPO6}
\Cf[lr]{o6a}{282,863}{o2}{right}{ASPOsix}
\Cf[lr]{o6b}{281,904}{h2o2}{right}{ASPOsix}
\Cf[lr]{o6c}{284,913}{h}{right}{ASPOsix}
\Bm{iaspe}{273,928}{iasp}{below}
\E[lr]{(aspL) .. controls (265,850) and (272,865) .. (ASPOsix)}
\E[lr]{(ASPOsix) -- (iaspe)}
\Rx[sbx,anchor=west]{ASPT}{311,887}{315,889}{ASPT}
\Cf[lr]{ata}{322,909}{nh4}{right}{ASPT}
\Bm{fume}{312,927}{fum}{below}
\E[lr]{(aspL) .. controls (290,845) and (308,860) .. (ASPT)}
\E[lr]{(ASPT) -- (fume)}
\Rx[sbx,anchor=west]{ASPTA}{342,886}{346,887}{ASPTA}
\Cf[lr]{taa}{334,862}{akg}{right}{ASPTA}
\Cf[lr]{tab}{353,910}{glu-L}{right}{ASPTA}
\Bm{oaae}{344,927}{oaa}{below}
\E[lr]{(aspL) .. controls (300,840) and (335,855) .. (ASPTA)}
\E[lr]{(ASPTA) -- (oaae)}
% ================= purine / arginine (cyan, bottom left)
\Bm{fumb}{74,715}{fum}{above right}
\Bm{aicar}{38,739}{aicar}{right}
\Rx{ADSLtwo}{43,774}{57,762}{ADSL2r}
\Bm{aics}{46,810}{25aics}{below left}
\E[lc]{(fumb) .. controls (55,716) and (38,722) .. (aicar)}
\E[lc]{(aicar) .. controls (30,755) and (35,768) .. (ADSLtwo)}
\E[lc]{(ADSLtwo) .. controls (52,785) and (50,798) .. (aics)}
\Rx{ADSLone}{79,798}{101,804}{ADSL1r}
\Sm{ampb}{93,773}{amp}{left}
\Bm{dcamp}{74,828}{dcamp}{below left}
\E[lc]{(ampb) .. controls (95,785) and (88,795) .. (ADSLone)}
\E[lc]{(ADSLone) .. controls (72,810) and (70,818) .. (dcamp)}
\E[lc]{(fumb) .. controls (110,760) and (70,775) .. (ADSLone)}
\Rx{ADSS}{133,841}{121,853}{ADSS}
\Cf[lc]{ssa}{107,821}{pi}{above}{ADSS}
\Cf[lc]{ssb}{102,824}{h}{left}{ADSS}
\Cf[lc]{ssc}{116,814}{gdp}{right}{ADSS}
\Cf[lc]{ssd}{158,830}{imp}{right}{ADSS}
\Cf[lc]{sse}{168,834}{gtp}{right}{ADSS}
\E[lc]{(dcamp) .. controls (90,836) and (115,842) .. (ADSS)}
\E[lc]{(ADSS) .. controls (170,840) and (210,838) .. (aspL)}
\Bm{argL}{147,737}{arg-L}{above right}
\Sm{hwo}{183,725}{h2o}{right}
\Rx{ARGD}{189,753}{212,747}{ARGD}
\Cf[lc]{ada}{219,763}{nh4}{right}{ARGD}
\Bm{citrL}{217,778}{citr-L}{right}
\E[lc]{(argL) .. controls (165,750) and (175,753) .. (ARGD)}
\E[lc]{(hwo) .. controls (178,735) and (185,745) .. (ARGD)}
\E[lc]{(ARGD) .. controls (205,760) and (215,765) .. (citrL)}
\Rx{ARGSL}{127,781}{145,771}{ARGSL}
\Cf[lc]{asl}{153,783}{nh4}{right}{ARGSL}
\Bm{argsuc}{158,796}{argsuc}{below left}
\E[lc]{(argsuc) .. controls (140,795) and (130,790) .. (ARGSL)}
\E[lc]{(ARGSL) .. controls (118,765) and (128,745) .. (argL)}
\E[lc]{(fumb) .. controls (95,740) and (110,772) .. (ARGSL)}
\Rx{ARGSS}{191,818}{194,792}{ARGSS}
\Cf[lc]{sxa}{177,806}{ppi}{above}{ARGSS}
\Cf[lc]{sxb}{164,812}{h}{left}{ARGSS}
\Cf[lc]{sxc}{156,820}{amp}{left}{ARGSS}
\E[lc]{(citrL) .. controls (218,800) and (205,815) .. (ARGSS)}
\E[lc]{(ARGSS) .. controls (180,810) and (170,800) .. (argsuc)}
\E[lc]{(ARGSS) .. controls (205,825) and (225,832) .. (aspL)}
\Rx{PRASCSi}{63,867}{59,884}{PRASCSi}
\Cf[lc]{pra}{34,865}{adp}{left}{PRASCSi}
\Cf[lc]{prb}{30,874}{pi}{left}{PRASCSi}
\Cf[lc]{prc}{34,883}{h}{left}{PRASCSi}
\Cf[lc]{prd}{94,881}{atp}{right}{PRASCSi}
\Bm{aizc}{117,867}{5aizc}{above left}
\E[lc]{(aizc) .. controls (95,868) and (75,867) .. (PRASCSi)}
\E[lc]{(PRASCSi) .. controls (40,850) and (40,830) .. (aics)}
\E[lc]{(PRASCSi) .. controls (110,885) and (138,878) .. (142,855) .. controls (146,838) and (200,838) .. (aspL)}
% ================= anaplerotic / acetate
\Rx{MEtwo}{306,412}{301,398}{ME2}
\Cf{mea}{258,408}{co2}{left}{MEtwo}
\Cf{meb}{272,401}{nadph}{above}{MEtwo}
\Cf{mec}{330,390}{nadp}{above}{MEtwo}
\E{(malL) .. controls (350,400) and (330,410) .. (MEtwo)}
\E{(MEtwo) .. controls (250,430) and (150,470) .. (pyr)}
\Rx{PC}{318,414}{326,423}{PC}
\Cf{pcaa}{339,407}{pi}{above}{PC}
\Cf{pcbb}{345,413}{h}{right}{PC}
\Cf{pccc}{305,425}{hco3}{below}{PC}
\Cf{pcdd}{298,433}{atp}{left}{PC}
\E{(pyr) .. controls (170,468) and (260,430) .. (PC)}
\E{(PC) .. controls (345,425) and (370,440) .. (oaa)}
\Rx{OAADC}{332,433}{327,444}{OAADC}
\Cf{oda}{299,447}{co2}{left}{OAADC}
\Cf{odb}{354,442}{h}{right}{OAADC}
\E{(oaa) .. controls (360,440) and (345,436) .. (OAADC)}
\E{(OAADC) .. controls (280,440) and (170,480) .. (pyr)}
\E{(PPC) .. controls (205,432) and (300,452) .. (oaa)}
\E{(oaa) .. controls (300,458) and (215,432) .. (PPCK)}
\E{(accoa) .. controls (290,465) and (360,455) .. (CS)}
\Rx[anchor=west]{ACS}{232,529}{237,529}{ACS}
\Cf{asaa}{215,501}{ppi}{right}{ACS}
\Cf{asbb}{204,504}{amp}{left}{ACS}
\Cf{ascc}{220,542}{h}{left}{ACS}
\Cf{asdd}{210,553}{atp}{left}{ACS}
\Cf{asee}{203,561}{coa}{below}{ACS}
\Bm{ac}{232,573}{ac}{left}
\E{(accoa) -- (ACS) -- (ac)}
\Rx{ACALD}{258,502}{276,493}{ACALD}
\Cf[lc]{ala}{254,487}{nadh}{above right}{ACALD}
\Cf[lc]{alb}{285,508}{nad}{right}{ACALD}
\Cf[lc]{alc}{288,519}{coa}{right}{ACALD}
\Bm{acald}{273,529}{acald}{right}
\E[lc]{(accoa) .. controls (245,492) and (252,496) .. (ACALD)}
\E[lc]{(ACALD) .. controls (265,512) and (270,518) .. (acald)}
\Rx[anchor=west]{ALDDtwox}{262,559}{266,568}{ALDD2x}
\Cf[lc]{xda}{261,536}{nad}{below left}{ALDDtwox}
\Cf[lc]{xdb}{254,550}{h2o}{left}{ALDDtwox}
\Cf[lc]{xdc}{251,577}{nadh}{below}{ALDDtwox}
\Cf[lc]{xdd}{261,577}{h}{below}{ALDDtwox}
\E[lc]{(acald) .. controls (270,540) and (265,550) .. (ALDDtwox)}
\E[lc]{(ALDDtwox) .. controls (250,565) and (240,570) .. (ac)}
\Rx[anchor=east]{ACttwo}{232,594}{228,595}{ACt2rpp}
\Cf[lr]{ctaa}{224,583}{h}{left}{ACttwo}
\Cw[lr]{ctbb}{224,604}{h}{left}{ACttwo}
\Pe{acp}{232,614}{ac[p]}{left}
\Rx[anchor=east]{ACtex}{232,631}{228,631}{ACtex}
\Ye{ace}{232,648}{ac[e]}{left}
\E[lr]{(ac) -- (ACttwo) -- (acp) -- (ACtex) -- (ace)}
% ================= phosphate (red)
\Bm{ppi}{367,504}{ppi}{right}
\Bm{pibig}{333,543}{pi}{left}
\Rx{PPA}{344,521}{327,509}{PPA}
\Cf[lr]{ppaa}{349,500}{h2o}{above}{PPA}
\Cf[lr]{ppab}{328,526}{h}{left}{PPA}
\E[lr]{(ppi) .. controls (355,505) and (350,512) .. (PPA)}
\E[lr]{(PPA) .. controls (338,530) and (335,535) .. (pibig)}
\Rx{PPKr}{363,531}{388,531}{PPKr}
\Cf[lr]{pkra}{382,518}{adp}{right}{PPKr}
\Cf[lr]{pkrb}{366,548}{atp}{below}{PPKr}
\Cf[lr]{pkrc}{375,544}{h}{right}{PPKr}
\E[lr]{(ppi) .. controls (372,515) and (368,522) .. (PPKr)}
\E[lr]{(PPKr) .. controls (355,540) and (345,545) .. (pibig)}
\Rx[anchor=east]{Pluabc}{319,581}{314,582}{Pluabcpp}
\Cf[lr]{pla}{302,559}{adp}{left}{Pluabc}
\Cf[lr]{plb}{307,554}{h}{above}{Pluabc}
\Cf[lr]{plc}{294,601}{atp}{left}{Pluabc}
\Cf[lr]{pld}{303,605}{h2o}{below}{Pluabc}
\Pe{pip}{333,620}{pi}{left}
\E[lr]{(pibig) .. controls (324,555) and (319,565) .. (Pluabc)}
\E[lr]{(Pluabc) .. controls (320,600) and (325,612) .. (pip)}
\Rx[anchor=west]{Plttwo}{347,586}{352,587}{Plt2rpp}
\Cf[lr]{ptaa}{358,565}{h}{right}{Plttwo}
\Cw[lr]{ptbb}{360,609}{h}{right}{Plttwo}
\E[lr]{(pibig) .. controls (343,555) and (347,570) .. (Plttwo)}
\E[lr]{(Plttwo) .. controls (347,600) and (340,612) .. (pip)}
\Rx[bbx,anchor=east]{PItex}{333,636}{329,637}{PItex}
\Ye{pie}{333,654}{pi[e]}{left}
\E[lr]{(pip) -- (PItex) -- (pie)}
% ================= all connectors behind nodes
\begin{pgfonlayer}{background}
\edgelist
\end{pgfonlayer}
\end{tikzpicture}
\end{document}
